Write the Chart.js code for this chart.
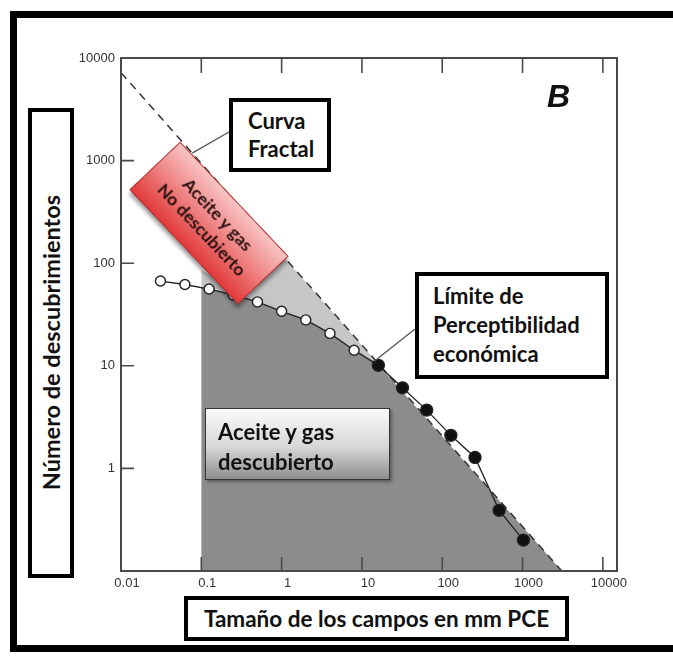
<!DOCTYPE html>
<html>
<head>
<meta charset="utf-8">
<script src="https://cdn.jsdelivr.net/npm/chart.js@4.4.1/dist/chart.umd.min.js"></script>
<style>
  html, body { margin: 0; padding: 0; background: #fff; }
  #wrap { position: relative; width: 673px; height: 660px; overflow: hidden; font-family: Lato, "Open Sans", sans-serif; }
  #chart { position: absolute; left: 0; top: 0; }
  .frame { position: absolute; left: 10px; top: 11px; width: 700px; height: 641px; border: 7px solid #000; box-sizing: border-box; }
  .box { position: absolute; background: #fff; border: 4px solid #000; box-sizing: border-box; font-weight: bold; color: #111; }
  #ytitle { left: 28px; top: 108px; width: 46px; height: 470px; display: flex; align-items: center; justify-content: center; }
  #ytitle span { writing-mode: vertical-rl; transform: rotate(180deg); font-size: 23.5px; white-space: nowrap; }
  #xtitle { left: 184px; top: 596px; width: 385px; height: 45px; font-size: 22.5px; text-align: center; line-height: 37px; }
  #fractal { left: 229px; top: 98px; width: 102px; height: 74px; font-size: 22px; line-height: 28px; padding: 5px 0 0 15px; }
  #limite { left: 415px; top: 272px; width: 194px; height: 107px; font-size: 22px; line-height: 29px; padding: 5px 0 0 14px; }
  #found { left: 205px; top: 408px; width: 185px; height: 72px; border: 1.5px solid #333; font-size: 22px; line-height: 30px; padding: 8px 0 0 12px;
           background: linear-gradient(to bottom, #fbfbfb 0%, #d6d6d6 55%, #8e8e8e 100%); box-shadow: 2px 2px 3px rgba(0,0,0,0.35); }
  #red { position: absolute; left: 130px; top: 188px; width: 158px; height: 70px; transform: rotate(46.6deg); box-sizing: border-box;
         border: 1px solid #b03030; background: linear-gradient(to bottom, #f8c4c4 0%, #f08888 45%, #e23a3a 100%);
         box-shadow: 3px 3px 4px rgba(0,0,0,0.4); font-weight: bold; font-size: 17.5px; line-height: 22px; color: #2a1010;
         text-align: center; padding-top: 11px; }
  #bmark { position: absolute; left: 547px; top: 78px; font-family: "Liberation Sans", Arial, sans-serif; font-weight: bold; font-style: italic; font-size: 32px; color: #111; }
</style>
</head>
<body>
<div id="wrap">
  <canvas id="chart" width="673" height="660"></canvas>
  <div class="frame"></div>
  <div class="box" id="ytitle"><span>Número de descubrimientos</span></div>
  <div class="box" id="xtitle">Tamaño de los campos en mm PCE</div>
  <div class="box" id="fractal">Curva<br>Fractal</div>
  <div class="box" id="limite">Límite de<br>Perceptibilidad<br>económica</div>
  <div class="box" id="found">Aceite y gas<br>descubierto</div>
  <div id="red">Aceite y gas<br>No descubierto</div>
  <div id="bmark">B</div>
</div>
<script>
// Axis ticks
const xTicks = [0.01, 0.1, 1, 10, 100, 1000, 10000];
const xLabels = ["0.01", "0.1", "1", "10", "100", "1000", "10000"];
const yTicks = [1, 10, 100, 1000, 10000];
const yLabels = ["1", "10", "100", "1000", "10000"];

// Discoveries below the economic limit (open circles)
const openX = [0.031, 0.0625, 0.125, 0.25, 0.5, 1, 2, 4, 8];
const openY = [67, 62, 56, 49, 42, 34, 28, 20.7, 14.2];
// Discoveries above the economic limit (filled circles)
const filledX = [16, 32, 64, 128, 256, 512, 1024];
const filledY = [10.1, 6.1, 3.7, 2.1, 1.28, 0.39, 0.2];

// Fractal curve (dashed straight line in log-log)
const fractalX = [0.01, 3080];
const fractalY = [7200, 0.1];

// Upper edge of the light (undiscovered) shading
const lightX = [0.1, 0.2, 0.45, 1, 3080];
const lightY = [86, 63, 169, 121, 0.1];
// Upper edge of the dark (discovered) shading
const darkX = [0.1, 0.125, 0.25, 0.5, 1, 2, 4, 8, 16, 3080];
const darkY = [57.5, 56, 49, 42, 34, 28, 20.7, 14.2, 10.1, 0.1];

const pts = (xs, ys) => xs.map((v, i) => ({ x: v, y: ys[i] }));

// y of the fractal line at a given x (log-log interpolation)
function fractalAt(xv) {
  const lx0 = Math.log10(fractalX[0]), lx1 = Math.log10(fractalX[1]);
  const ly0 = Math.log10(fractalY[0]), ly1 = Math.log10(fractalY[1]);
  const t = (Math.log10(xv) - lx0) / (lx1 - lx0);
  return Math.pow(10, ly0 + t * (ly1 - ly0));
}

const allX = openX.concat(filledX);
const allY = openY.concat(filledY);
const pointFill = openX.map(() => "#fff").concat(filledX.map(() => "#111"));
const pointRad = openX.map(() => 5).concat(filledX.map(() => 6));

// ticks, frame and connector lines
const framePlugin = {
  id: "framePlugin",
  afterDatasetsDraw(chart) {
    const { ctx, chartArea: a, scales: { x, y } } = chart;
    ctx.save();
    ctx.strokeStyle = "#4a4a4a";
    ctx.lineWidth = 2;
    ctx.strokeRect(a.left, a.top, a.right - a.left, a.bottom - a.top);

    ctx.lineWidth = 1.6;
    ctx.beginPath();
    xTicks.slice(1).forEach(v => {
      const px = x.getPixelForValue(v);
      ctx.moveTo(px, a.top); ctx.lineTo(px, a.top + 15);
      ctx.moveTo(px, a.bottom); ctx.lineTo(px, a.bottom - 14);
    });
    yTicks.slice(0, -1).forEach(v => {
      const py = y.getPixelForValue(v);
      ctx.moveTo(a.left, py); ctx.lineTo(a.left + 13, py);
    });
    ctx.stroke();

    // connectors from the labels to the curves
    ctx.strokeStyle = "#555";
    ctx.lineWidth = 1.3;
    ctx.beginPath();
    const fx = 0.077;
    ctx.moveTo(229, 132);
    ctx.lineTo(x.getPixelForValue(fx), y.getPixelForValue(fractalAt(fx)));
    ctx.moveTo(415, 329);
    ctx.lineTo(x.getPixelForValue(filledX[0]) - 4, y.getPixelForValue(filledY[0]) - 4);
    ctx.stroke();
    ctx.restore();
  }
};

new Chart(document.getElementById("chart").getContext("2d"), {
  type: "scatter",
  data: {
    datasets: [
      {
        data: pts(allX, allY),
        showLine: true,
        borderColor: "#222",
        borderWidth: 1.3,
        pointRadius: pointRad,
        pointBackgroundColor: pointFill,
        pointBorderColor: "#222",
        pointBorderWidth: 1.4,
        order: 1
      },
      {
        data: pts(fractalX, fractalY),
        showLine: true,
        borderColor: "#333",
        borderWidth: 1.5,
        borderDash: [8, 6],
        pointRadius: 0,
        order: 2
      },
      {
        data: pts(darkX, darkY),
        showLine: true,
        borderWidth: 0,
        borderColor: "rgba(0,0,0,0)",
        backgroundColor: "#8c8c8c",
        fill: "start",
        pointRadius: 0,
        order: 3
      },
      {
        data: pts(lightX, lightY),
        showLine: true,
        borderWidth: 0,
        borderColor: "rgba(0,0,0,0)",
        backgroundColor: "#c6c6c6",
        fill: "start",
        pointRadius: 0,
        order: 4
      }
    ]
  },
  options: {
    responsive: false,
    animation: false,
    layout: { padding: { left: 76, right: 56, top: 58, bottom: 59 } },
    plugins: { legend: { display: false }, tooltip: { enabled: false } },
    scales: {
      x: {
        type: "logarithmic",
        min: 0.01,
        max: 15000,
        grid: { display: false, drawTicks: false },
        border: { display: false },
        afterBuildTicks: s => { s.ticks = xTicks.map(v => ({ value: v })); },
        afterFit: s => { s.height = 30; },
        ticks: {
          callback: v => xLabels[xTicks.indexOf(v)],
          autoSkip: false,
          maxRotation: 0,
          padding: 5,
          labelOffset: 6,
          color: "#333",
          font: { family: "Liberation Sans", size: 13 }
        }
      },
      y: {
        type: "logarithmic",
        min: 0.1,
        max: 10000,
        grid: { display: false, drawTicks: false },
        border: { display: false },
        afterBuildTicks: s => { s.ticks = yTicks.map(v => ({ value: v })); },
        afterFit: s => { s.width = 45; },
        ticks: {
          callback: v => yLabels[yTicks.indexOf(v)],
          autoSkip: false,
          padding: 6,
          color: "#333",
          font: { family: "Liberation Sans", size: 13 }
        }
      }
    }
  },
  plugins: [framePlugin]
});
</script>
</body>
</html>
